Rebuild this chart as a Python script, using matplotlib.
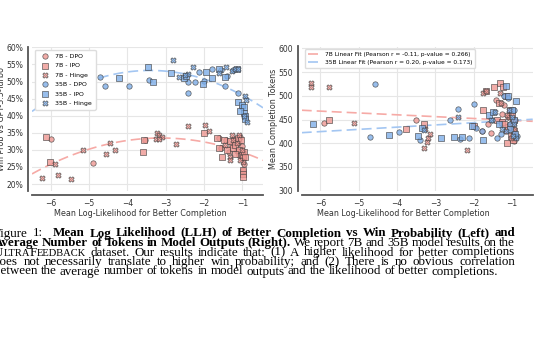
import matplotlib
matplotlib.use("Agg")

import numpy as np
from matplotlib import pyplot as plt
from matplotlib.ticker import PercentFormatter
from matplotlib.transforms import IdentityTransform

# ---- left panel: mean LLH of better completion vs win rate (%) ----
L_7B_DPO_X = [-6.00, -4.90, -3.55, -1.62, -1.55, -1.42, -1.30, -1.22, -1.15, -1.10, -1.05, -1.02, -0.99, -0.97, -0.95, -0.98, -1.08, -1.35]
L_7B_DPO_Y = [33.2, 26.3, 32.8, 33.4, 30.5, 32.8, 31.5, 33.2, 29.8, 32.0, 33.8, 31.0, 29.5, 27.5, 26.0, 24.0, 28.5, 29.5]
L_7B_IPO_X = [-6.13, -6.03, -3.58, -3.57, -2.00, -1.67, -1.60, -1.52, -1.48, -1.40, -1.33, -1.25, -1.18, -1.12, -1.08, -1.03, -1.00, -0.98, -0.96, -0.99, -0.99, -0.99, -0.94, -1.20]
L_7B_IPO_Y = [33.9, 26.6, 29.4, 33.0, 35.0, 33.6, 30.5, 28.0, 33.0, 30.0, 32.5, 30.5, 31.5, 33.5, 30.0, 32.8, 28.5, 27.8, 29.5, 24.0, 23.0, 22.2, 28.0, 28.8]
L_7B_HINGE_X = [-6.24, -5.89, -5.80, -5.47, -5.15, -4.56, -4.46, -4.32, -3.23, -3.18, -3.10, -3.25, -3.17, -2.73, -2.43, -1.97, -1.87, -1.27, -1.32, -1.32, -1.08, -1.45, -1.15, -1.02, -0.97, -1.25, -1.05]
L_7B_HINGE_Y = [21.9, 25.8, 22.6, 21.4, 30.1, 28.7, 31.9, 30.1, 35.0, 34.5, 33.9, 33.3, 33.1, 31.8, 37.1, 37.4, 35.6, 34.4, 27.8, 27.0, 34.4, 31.5, 32.0, 30.0, 26.5, 33.0, 27.0]
L_35B_DPO_X = [-4.71, -4.59, -3.97, -3.43, -2.41, -2.41, -2.23, -2.13, -2.00, -1.80, -1.46, -1.11, -1.02, -1.40, -1.55, -1.25]
L_35B_DPO_Y = [51.4, 48.7, 48.7, 50.4, 46.5, 49.8, 49.8, 52.9, 50.2, 53.6, 48.7, 46.5, 42.6, 51.5, 53.4, 53.5]
L_35B_IPO_X = [-6.20, -3.46, -4.23, -3.34, -2.86, -2.52, -2.03, -1.95, -1.78, -1.60, -1.45, -1.13, -1.11, -1.00, -0.95, -0.96, -0.93, -0.92, -1.05, -2.48]
L_35B_IPO_Y = [47.5, 54.3, 51.0, 49.8, 52.4, 50.9, 49.3, 52.9, 50.9, 53.6, 51.2, 53.6, 43.9, 43.0, 42.5, 40.8, 39.8, 39.0, 41.5, 51.6]
L_35B_HINGE_X = [-2.82, -2.30, -2.41, -2.50, -2.64, -1.60, -1.43, -1.26, -1.20, -1.10, -0.93, -0.90, -0.87, -0.95]
L_35B_HINGE_Y = [56.2, 54.1, 52.2, 52.0, 51.2, 52.6, 54.1, 53.0, 53.8, 53.8, 45.8, 44.6, 38.2, 40.0]

# ---- right panel: mean LLH vs mean completion tokens ----
R_7B_DPO_X = [-5.90, -3.51, -1.43, -1.54, -1.78, -1.20, -1.10, -1.05, -1.00, -0.97, -0.95, -1.25, -1.15, -1.62, -0.93]
R_7B_DPO_Y = [443, 449, 491, 421, 426, 480, 455, 440, 430, 418, 405, 462, 425, 440, 450]
R_7B_IPO_X = [-5.78, -3.77, -3.30, -1.99, -1.76, -1.48, -1.69, -1.32, -1.23, -1.15, -1.13, -0.97, -1.35, -1.05, -1.00, -0.98, -1.10, -1.40, -1.25, -0.95, -1.02, -1.20]
R_7B_IPO_Y = [449, 429, 440, 436, 470, 518, 511, 527, 519, 500, 400, 407, 485, 470, 460, 445, 435, 450, 445, 425, 415, 440]
R_7B_HINGE_X = [-6.26, -6.26, -5.77, -5.12, -3.31, -3.23, -3.19, -3.15, -3.28, -2.17, -1.76, -1.69, -1.32, -1.30, -1.08, -1.00, -0.97, -1.03, -0.94, -1.12]
R_7B_HINGE_Y = [527, 518, 519, 442, 389, 403, 412, 419, 430, 385, 506, 509, 506, 485, 455, 440, 425, 410, 430, 460]
R_35B_DPO_X = [-4.58, -4.71, -3.95, -3.41, -2.63, -2.41, -2.37, -2.12, -2.00, -1.93, -1.79, -1.52, -1.40, -1.30, -1.20, -1.10, -0.95, -0.88, -1.05]
R_35B_DPO_Y = [524, 414, 423, 407, 449, 472, 409, 410, 482, 433, 426, 448, 410, 420, 500, 495, 470, 415, 440]
R_35B_IPO_X = [-6.19, -4.22, -3.45, -3.34, -2.86, -2.51, -2.30, -2.04, -1.76, -1.60, -1.50, -1.35, -1.15, -1.10, -1.00, -0.95, -0.90, -1.05, -0.92]
R_35B_IPO_Y = [440, 417, 415, 433, 412, 414, 414, 436, 407, 460, 465, 440, 520, 500, 470, 450, 490, 430, 420]
R_35B_HINGE_X = [-3.30, -2.40, -1.55, -1.45, -1.25, -1.15, -1.00, -0.95, -0.90, -1.08, -0.98]
R_35B_HINGE_Y = [428, 455, 450, 465, 430, 425, 455, 440, 410, 470, 415]

FIT_7B_LABEL = "7B Linear Fit (Pearson r = -0.11, p-value = 0.266)"
FIT_35B_LABEL = "35B Linear Fit (Pearson r = 0.20, p-value = 0.173)"

C7 = "#ee9893"
C35 = "#7eaee8"
FIT7 = "#f6aaa6"
FIT35 = "#a3c6f2"
EDGE = "#3a3a3a"


def style_axes(ax):
    ax.set_facecolor("white")
    ax.grid(True, color="#e6e6e6", lw=0.8)
    ax.set_axisbelow(True)
    for s in ["top", "right"]:
        ax.spines[s].set_visible(False)
    for s in ["left", "bottom"]:
        ax.spines[s].set_color("#555555")
        ax.spines[s].set_linewidth(1.3)
        ax.spines[s].set_position(("outward", 3))
    ax.tick_params(length=0, pad=3, labelsize=5.5, labelcolor="#333333")
    ax.set_xlim(-6.49, -0.46)
    ax.set_xticks([-6, -5, -4, -3, -2, -1])


def scatter_group(ax, xs, ys, color, marker, label):
    ax.scatter(xs, ys, s=15, c=color, marker=marker, edgecolors=EDGE,
               linewidths=0.5, alpha=0.8, label=label, zorder=3)


fig = plt.figure(figsize=(5.4, 3.4), dpi=100)
fig.patch.set_facecolor("white")

W, H = 540.0, 340.0
AX_TOP, AX_BOT = 46.5, 191.0
axl = fig.add_axes([32 / W, (H - AX_BOT) / H, 231 / W, (AX_BOT - AX_TOP) / H])
axr = fig.add_axes([301.7 / W, (H - AX_BOT) / H, 231 / W, (AX_BOT - AX_TOP) / H])

# left
style_axes(axl)
xx = np.linspace(-6.49, -0.46, 100)
x7 = np.array(L_7B_DPO_X + L_7B_IPO_X + L_7B_HINGE_X)
y7 = np.array(L_7B_DPO_Y + L_7B_IPO_Y + L_7B_HINGE_Y)
x35 = np.array(L_35B_DPO_X + L_35B_IPO_X + L_35B_HINGE_X)
y35 = np.array(L_35B_DPO_Y + L_35B_IPO_Y + L_35B_HINGE_Y)
axl.plot(xx, np.polyval(np.polyfit(x7, y7, 2), xx), ls=(0, (6, 3)), color=FIT7, lw=1.2, zorder=2)
axl.plot(xx, np.polyval(np.polyfit(x35, y35, 2), xx), ls=(0, (6, 3)), color=FIT35, lw=1.2, zorder=2)
scatter_group(axl, L_7B_DPO_X, L_7B_DPO_Y, C7, "o", "7B - DPO")
scatter_group(axl, L_7B_IPO_X, L_7B_IPO_Y, C7, "s", "7B - IPO")
scatter_group(axl, L_7B_HINGE_X, L_7B_HINGE_Y, C7, "X", "7B - Hinge")
scatter_group(axl, L_35B_DPO_X, L_35B_DPO_Y, C35, "o", "35B - DPO")
scatter_group(axl, L_35B_IPO_X, L_35B_IPO_Y, C35, "s", "35B - IPO")
scatter_group(axl, L_35B_HINGE_X, L_35B_HINGE_Y, C35, "X", "35B - Hinge")
axl.set_ylim(60 - (AX_BOT - 47.3) / 3.42, 60 + (47.3 - AX_TOP) / 3.42)
axl.set_yticks([20, 25, 30, 35, 40, 45, 50, 55, 60])
axl.yaxis.set_major_formatter(PercentFormatter(100, decimals=0))
leg = axl.legend(loc="upper left", fontsize=4.5, frameon=True, edgecolor="#dddddd",
                 borderpad=0.6, labelspacing=0.65, handletextpad=0.6, framealpha=1.0)
leg.set_zorder(5)
axl.set_xlabel("Mean Log-Likelihood for Better Completion", fontsize=5.8, color="#333333")
axl.set_ylabel("Win Prob vs GPT-3.5-Turbo", fontsize=5.8, color="#333333")
axl.xaxis.set_label_coords(0.47, -0.155)
axl.yaxis.set_label_coords(-0.132, 0.5)
axl.xaxis.label.set_va("center")
axl.yaxis.label.set_va("center")

# right
style_axes(axr)
rx7 = np.array(R_7B_DPO_X + R_7B_IPO_X + R_7B_HINGE_X)
ry7 = np.array(R_7B_DPO_Y + R_7B_IPO_Y + R_7B_HINGE_Y)
rx35 = np.array(R_35B_DPO_X + R_35B_IPO_X + R_35B_HINGE_X)
ry35 = np.array(R_35B_DPO_Y + R_35B_IPO_Y + R_35B_HINGE_Y)
axr.plot(xx, np.polyval(np.polyfit(rx7, ry7, 1), xx), ls=(0, (6, 3)), color=FIT7, lw=1.2, zorder=2, label=FIT_7B_LABEL)
axr.plot(xx, np.polyval(np.polyfit(rx35, ry35, 1), xx), ls=(0, (6, 3)), color=FIT35, lw=1.2, zorder=2, label=FIT_35B_LABEL)
scatter_group(axr, R_7B_DPO_X, R_7B_DPO_Y, C7, "o", None)
scatter_group(axr, R_7B_IPO_X, R_7B_IPO_Y, C7, "s", None)
scatter_group(axr, R_7B_HINGE_X, R_7B_HINGE_Y, C7, "X", None)
scatter_group(axr, R_35B_DPO_X, R_35B_DPO_Y, C35, "o", None)
scatter_group(axr, R_35B_IPO_X, R_35B_IPO_Y, C35, "s", None)
scatter_group(axr, R_35B_HINGE_X, R_35B_HINGE_Y, C35, "X", None)
axr.set_ylim(600 - (AX_BOT - 48.3) / 0.4747, 600 + (48.3 - AX_TOP) / 0.4747)
axr.set_yticks([300, 350, 400, 450, 500, 550, 600])
leg = axr.legend(loc="upper left", fontsize=4.2, frameon=True, edgecolor="#dddddd",
                 borderpad=0.5, labelspacing=0.5, handlelength=2.2, framealpha=1.0)
leg.set_zorder(5)
axr.set_xlabel("Mean Log-Likelihood for Better Completion", fontsize=5.8, color="#333333")
axr.set_ylabel("Mean Completion Tokens", fontsize=5.8, color="#333333")
axr.xaxis.set_label_coords(0.44, -0.155)
axr.yaxis.set_label_coords(-0.124, 0.5)
axr.xaxis.label.set_va("center")
axr.yaxis.label.set_va("center")

# ---- caption, justified like the paper ----
renderer = fig.canvas.get_renderer()
SERIF = "Liberation Serif"

CAP1 = [("Figure 1:", False),
        ("Mean Log Likelihood (LLH) of Better Completion vs Win Probability (Left) and", True)]
CAP2 = [("Average Number of Tokens in Model Outputs (Right).", True),
        ("We report 7B and 35B model results on the", False)]
CAP3 = [("dataset. Our results indicate that: (1) A higher likelihood for better completions", False)]
CAP4 = [("does not necessarily translate to higher win probability; and (2) There is no obvious correlation", False)]
CAP5 = [("between the average number of tokens in model outputs and the likelihood of better completions.", False)]


def words_of(segments):
    out = []
    for s, bold in segments:
        for w in s.split():
            out.append([(w, bold, 1.0)])
    return out


def raw_width(s, size, bold=False):
    t = fig.text(0, 0, s, fontsize=size, family=SERIF,
                 fontweight="bold" if bold else "normal")
    wd = t.get_window_extent(renderer).width
    t.remove()
    return wd


def adv(s, size, bold=False):
    return raw_width("i" + s + "i", size, bold) - raw_width("ii", size, bold)


def word_adv(word, size):
    return sum(adv(s, size * k, bold) for s, bold, k in word)


def space_adv(size):
    return raw_width("i i", size) - raw_width("ii", size)


def put_line(y_top, words, x0, x1, size, justify=True, extra=None):
    extra = extra or {}
    widths = [word_adv(w, size) for w in words]
    space = space_adv(size)
    ex = sum(extra.values())
    if justify:
        gap = max((x1 - x0 - sum(widths) - ex) / (len(words) - 1), space * 0.7)
    else:
        gap = space
    x = x0
    for i, w in enumerate(words):
        for s, bold, k in w:
            fig.text(x, H - y_top, s, transform=IdentityTransform(),
                     fontsize=size * k, family=SERIF, va="baseline", ha="left",
                     fontweight="bold" if bold else "normal", color="black")
            x += adv(s, size * k, bold)
        x += gap + extra.get(i, 0)


X0, X1 = -6, 515
# size chosen so the last (ragged) line ends where it does in the paper
w5 = words_of(CAP5)
nat10 = sum(word_adv(w, 10) for w in w5) + (len(w5) - 1) * space_adv(10)
CAP_SIZE = 10 * (501 - X0) / nat10

put_line(236.5, words_of(CAP1), X0, X1, CAP_SIZE, extra={1: 6})
put_line(246, words_of(CAP2), X0, X1, CAP_SIZE)
smallcaps = [[("U", False, 1.0), ("LTRA", False, 0.8), ("F", False, 1.0), ("EEDBACK", False, 0.8)]]
put_line(255.5, smallcaps + words_of(CAP3), X0, X1, CAP_SIZE)
put_line(265, words_of(CAP4), X0, X1, CAP_SIZE)
put_line(274.5, w5, X0, X1, CAP_SIZE, justify=False)

fig.savefig("out.png", dpi=100)
